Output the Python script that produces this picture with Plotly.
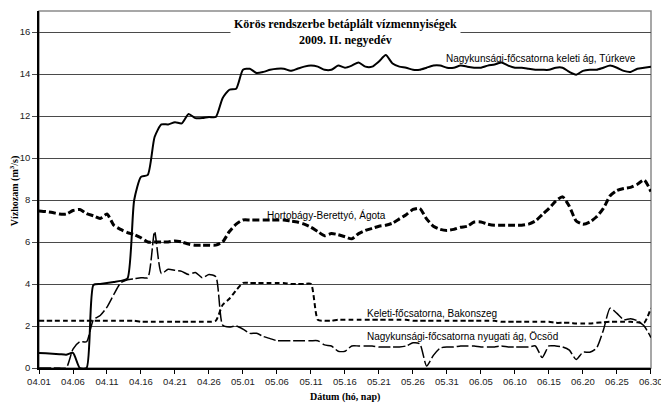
import pandas as pd
import plotly.graph_objects as go

# ---- data ----------------------------------------------------------------
DATES = pd.date_range("2009-04-01", "2009-06-30", freq="D")

TURKEVE = [0.72, 0.70, 0.68, 0.66, 0.63, 0.72, 0.0, 0.0, 3.95, 4.0,
           4.05, 4.1, 4.15, 4.25, 8.0, 9.1, 9.2, 11.0, 11.6, 11.6,
           11.7, 11.65, 12.1, 11.9, 11.9, 11.95, 11.95, 12.85, 13.25, 13.3,
           14.2, 14.25, 14.05, 14.1, 14.2, 14.25, 14.25, 14.15, 14.25, 14.35,
           14.4, 14.35, 14.2, 14.2, 14.4, 14.3, 14.4, 14.55, 14.35, 14.35,
           14.6, 14.9, 14.5, 14.35, 14.3, 14.2, 14.2, 14.3, 14.4, 14.4,
           14.3, 14.3, 14.4, 14.35, 14.3, 14.3, 14.4, 14.45, 14.55, 14.4,
           14.3, 14.3, 14.25, 14.2, 14.2, 14.2, 14.3, 14.3, 14.1, 13.97,
           14.15, 14.2, 14.2, 14.3, 14.4, 14.3, 14.15, 14.1, 14.25, 14.3,
           14.35]

AGOTA = [7.48, 7.45, 7.4, 7.33, 7.33, 7.5, 7.55, 7.35, 7.25, 7.12,
         7.33, 6.8, 6.6, 6.45, 6.35, 6.2, 6.0, 6.0, 6.0, 6.0,
         6.05, 6.0, 5.9, 5.85, 5.85, 5.85, 5.85, 6.0, 6.5, 6.85,
         7.05, 7.05, 7.05, 7.05, 7.05, 7.05, 7.05, 7.0, 6.95, 6.85,
         6.7, 6.5, 6.3, 6.4, 6.35, 6.25, 6.15, 6.4, 6.55, 6.65,
         6.75, 6.8, 6.9, 7.1, 7.3, 7.55, 7.6, 7.1, 6.75, 6.6,
         6.55, 6.6, 6.7, 6.75, 6.95, 6.95, 6.85, 6.8, 6.8, 6.8,
         6.8, 6.8, 6.85, 7.0, 7.3, 7.6, 7.95, 8.15, 7.7, 7.0,
         6.85, 6.95, 7.2, 7.6, 8.2, 8.45, 8.55, 8.6, 8.75, 8.95,
         8.4]

BAKONSZEG = [2.25, 2.25, 2.25, 2.25, 2.25, 2.25, 2.25, 2.25, 2.25, 2.25,
             2.25, 2.25, 2.25, 2.25, 2.25, 2.2, 2.2, 2.2, 2.2, 2.2,
             2.2, 2.2, 2.2, 2.2, 2.2, 2.2, 2.25, 3.0, 3.3, 3.7,
             4.05, 4.05, 4.05, 4.05, 4.05, 4.05, 4.05, 4.0, 4.0, 4.0,
             4.0, 2.3, 2.25, 2.25, 2.3, 2.3, 2.3, 2.3, 2.3, 2.3,
             2.3, 2.3, 2.3, 2.3, 2.3, 2.25, 2.25, 2.25, 2.25, 2.25,
             2.25, 2.25, 2.25, 2.25, 2.25, 2.25, 2.25, 2.25, 2.2, 2.2,
             2.2, 2.2, 2.2, 2.2, 2.2, 2.2, 2.15, 2.15, 2.15, 2.12,
             2.12, 2.12, 2.15, 2.18, 2.2, 2.2, 2.2, 2.2, 2.18, 2.15,
             2.85]

OCSOD = [0.0, 0.0, 0.0, 0.0, 0.0, 0.9, 1.25, 1.25, 2.3, 2.5,
         2.9, 3.5, 4.05, 4.2, 4.25, 4.3, 4.3, 6.5, 4.5, 4.7,
         4.65, 4.6, 4.45, 4.55, 4.3, 4.45, 4.35, 2.05, 1.95, 2.0,
         1.85, 1.65, 1.65, 1.5, 1.4, 1.3, 1.3, 1.3, 1.3, 1.3,
         1.3, 1.3, 1.1, 1.05, 0.8, 0.8, 1.05, 1.05, 1.05, 1.05,
         1.0, 1.0, 1.0, 1.0, 1.05, 1.2, 1.15, 0.1, 0.6, 0.95,
         1.0, 1.0, 1.05, 1.05, 1.05, 1.0, 1.0, 1.0, 1.05, 1.0,
         1.0, 1.0, 1.0, 1.05, 0.5, 1.05, 1.05, 1.0, 0.85, 0.4,
         0.75, 0.75, 0.95, 1.8, 2.85, 2.6, 2.3, 2.35, 2.25, 2.0,
         1.45]

SERIES_NAMES = ["Nagykunsági-főcsatorna keleti ág, Túrkeve",
                "Hortobágy-Berettyó, Ágota",
                "Keleti-főcsatorna, Bakonszeg",
                "Nagykunsági-főcsatorna nyugati ág, Öcsöd"]

TITLE = "Körös rendszerbe betáplált vízmennyiségek<br>2009. II. negyedév"
X_TITLE = "Dátum (hó, nap)"
Y_TITLE = "Vízhozam (m<sup>3</sup>/s)"

# ---- figure --------------------------------------------------------------
SANS = "Liberation Sans, Arial, sans-serif"
SERIF = "Liberation Serif, Times New Roman, serif"

fig = go.Figure()

fig.add_trace(go.Scatter(x=DATES, y=BAKONSZEG, mode="lines", name=SERIES_NAMES[2],
                         line=dict(color="black", width=2, dash="5px,3px",
                                   shape="spline", smoothing=0.6)))
fig.add_trace(go.Scatter(x=DATES, y=OCSOD, mode="lines", name=SERIES_NAMES[3],
                         line=dict(color="black", width=1.5, dash="12px,3px",
                                   shape="spline", smoothing=0.6)))
fig.add_trace(go.Scatter(x=DATES, y=AGOTA, mode="lines", name=SERIES_NAMES[1],
                         line=dict(color="black", width=3, dash="7px,3px",
                                   shape="spline", smoothing=0.6)))
fig.add_trace(go.Scatter(x=DATES, y=TURKEVE, mode="lines", name=SERIES_NAMES[0],
                         line=dict(color="black", width=2,
                                   shape="spline", smoothing=0.6)))

label_font = dict(family=SANS, size=10, color="black")
annots = [
    dict(x="2009-05-30 12:00", y=14.75, text=SERIES_NAMES[0]),
    dict(x="2009-05-04 06:00", y=7.27, text=SERIES_NAMES[1]),
    dict(x="2009-05-19 00:00", y=2.6, text=SERIES_NAMES[2]),
    dict(x="2009-05-19 00:00", y=1.51, text=SERIES_NAMES[3]),
]
for a in annots:
    fig.add_annotation(x=a["x"], y=a["y"], text=a["text"], xref="x", yref="y",
                       showarrow=False, xanchor="left", yanchor="middle",
                       font=label_font)

fig.add_annotation(x=0.5, y=16, xref="paper", yref="y", text=TITLE,
                   showarrow=False, xanchor="center", yanchor="middle",
                   bgcolor="white", borderpad=3,
                   font=dict(family=SERIF, size=12, color="black", weight="bold"))

# axis titles
fig.add_annotation(x=0.5, y=-0.081, xref="paper", yref="paper", text=X_TITLE,
                   showarrow=False, xanchor="center", yanchor="middle",
                   font=dict(family=SERIF, size=10, color="black", weight="bold"))
fig.add_annotation(x=-0.041, y=0.495, xref="paper", yref="paper", text=Y_TITLE,
                   showarrow=False, xanchor="center", yanchor="middle", textangle=-90,
                   font=dict(family=SERIF, size=10, color="black", weight="bold"))

fig.add_shape(type="rect", xref="paper", yref="paper", x0=0, y0=0, x1=1, y1=1,
              line=dict(color="#8a8a8a", width=1.5), layer="below")

fig.update_layout(
    width=661, height=404,
    margin=dict(l=39, r=10, t=11, b=36, autoexpand=False),
    paper_bgcolor="white", plot_bgcolor="white",
    showlegend=False,
)
fig.update_xaxes(
    range=["2009-04-01", "2009-06-30 00:10"],
    tick0="2009-04-01", dtick=5 * 86400000, tickformat="%m.%d",
    showgrid=False, zeroline=False, automargin=False,
    ticklabeloverflow="allow",
    showline=True, linecolor="black", linewidth=1.5,
    ticks="outside", ticklen=4, tickcolor="black",
    tickfont=dict(family=SANS, size=9.5, color="#222"),
)
fig.update_yaxes(
    range=[0, 17], dtick=2, tick0=0, automargin=False,
    showgrid=True, gridcolor="#4a4a4a", gridwidth=1, zeroline=False,
    showline=True, linecolor="black", linewidth=1.5,
    ticks="outside", ticklen=5, tickcolor="#4a4a4a",
    tickfont=dict(family=SANS, size=9.5, color="#222"),
)

# remove the browser's default 8px page margin so the figure fills the window
fig.write_html("out.html",
               config={"displayModeBar": False},
               post_script="document.body.style.margin='0';"
                           "document.body.style.overflow='hidden';")
